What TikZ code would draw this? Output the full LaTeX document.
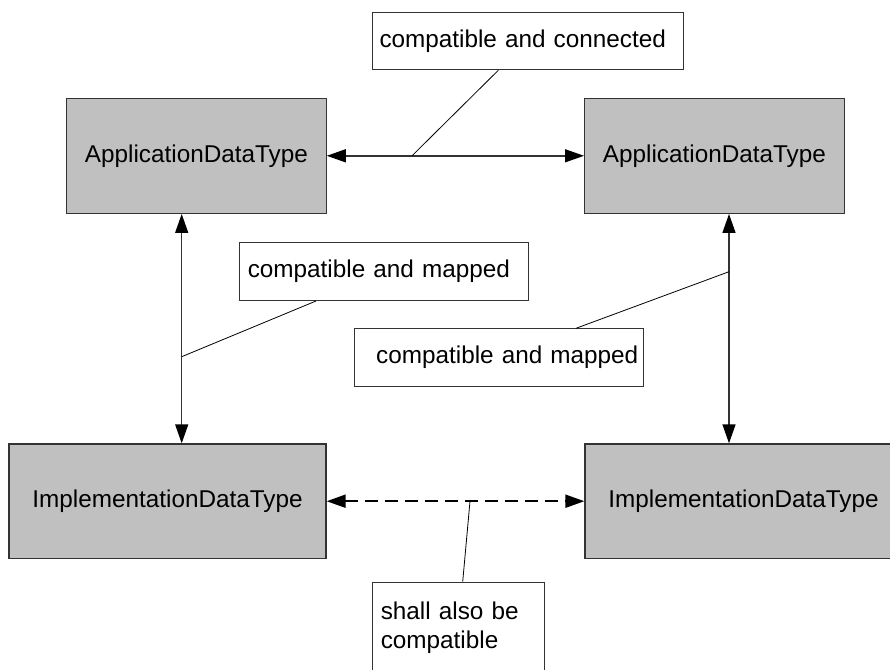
\documentclass[tikz,border=0pt]{standalone}
\usepackage{fontspec}
\setmainfont{Liberation Sans}
\usetikzlibrary{arrows.meta}
\definecolor{edgec}{HTML}{333333}
\definecolor{boxfill}{HTML}{C0C0C0}
\begin{document}
\begin{tikzpicture}[x=1pt,y=-1pt,
  txt/.style={font=\fontsize{24.3}{28.4}\selectfont},
  dtype/.style={txt, draw=edgec, fill=boxfill, line width=1.3pt, inner sep=0pt},
  appbox/.style={dtype, minimum width=259.5pt, minimum height=115pt},
  implbox/.style={dtype, minimum width=317pt, minimum height=114.5pt},
  callout/.style={txt, draw=edgec, fill=white, line width=1pt, anchor=north west, align=left, inner ysep=0pt},
  biarrow/.style={draw=edgec, line width=1.4pt, {Triangle[length=19pt 0 0,width=13pt 0 0,color=black]}-{Triangle[length=19pt 0 0,width=13pt 0 0,color=black]}},
  dasharrow/.style={draw=black, line width=2pt, dash pattern=on 13pt off 7pt, {Triangle[length=19pt 0 0,width=13pt 0 0]}-{Triangle[length=19pt 0 0,width=13pt 0 0]}},
  leader/.style={draw=black, line width=0.8pt}
]
\useasboundingbox (0,0) rectangle (890,669);
\fill[white] (0,0) rectangle (890,669);
\clip (0,0) rectangle (890,669);

% data type boxes
\node[appbox] (tl) at (196.4,155.8) {ApplicationDataType};
\node[appbox] (tr) at (714.4,155.8) {ApplicationDataType};
\node[implbox] (bl) at (167.5,501.2) {ImplementationDataType};
\node[implbox] (br) at (743.5,501.2) {ImplementationDataType};

% callouts
\node[callout, inner xsep=7.3pt, text width=296.4pt, minimum height=57pt] (topc) at (371.7,12.3) {compatible and connected};
\node[callout, inner xsep=8pt, text width=272.4pt, minimum height=57.7pt] (lc) at (239.3,242.3) {compatible and mapped};
\node[callout, inner xsep=0pt, text width=288.4pt, minimum height=57.7pt] (rc) at (354.3,328.3) {\hspace*{21.4pt}compatible and mapped};
\node[callout, inner xsep=8pt, text width=156pt, minimum height=91pt] (sc) at (372.3,581.7) {shall also be\\compatible};

% helper x positions
\coordinate (lvx) at (181.7,0);
\coordinate (rvx) at (729,0);
\coordinate (tcx) at (498.3,0);
\coordinate (lcx) at (316,0);
\coordinate (rcx) at (576,0);
\coordinate (scx) at (462.7,0);

% leader end points on the connectors
\coordinate (ta) at (412,155.8);
\coordinate (la) at (181.7,356.7);
\coordinate (ra) at (729,271.7);
\coordinate (da) at (470,501.2);

% connectors
\draw[biarrow] (tl.east) -- (tr.west);
\draw[biarrow] (tl.south -| lvx) -- (bl.north -| lvx);
\draw[biarrow] (tr.south -| rvx) -- (br.north -| rvx);
\draw[dasharrow] (bl.east) -- (br.west);

% leaders
\draw[leader] (topc.south -| tcx) -- (ta);
\draw[leader] (lc.south -| lcx) -- (la);
\draw[leader] (rc.north -| rcx) -- (ra);
\draw[leader] (sc.north -| scx) -- (da);
\end{tikzpicture}
\end{document}
